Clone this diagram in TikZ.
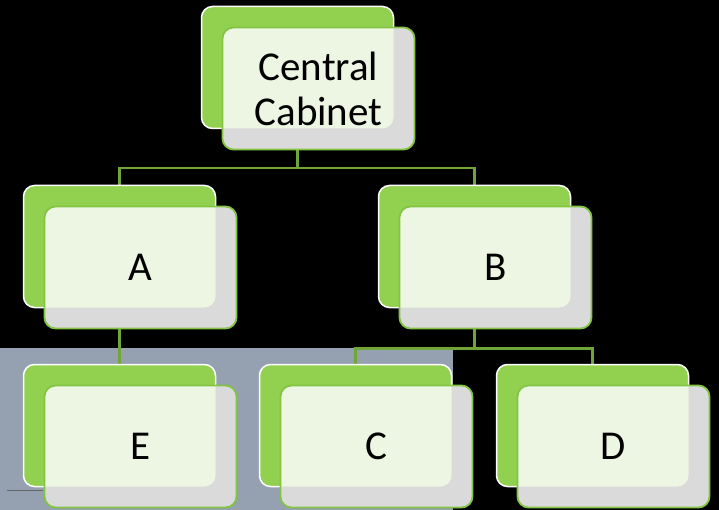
\documentclass[tikz,border=0pt]{standalone}
\usepackage{fontspec}
\setmainfont{Carlito}
\usepackage{tikz}
\usetikzlibrary{shadows, backgrounds}
\definecolor{leaf}{RGB}{146,208,80}
\definecolor{rim}{RGB}{132,196,68}
\definecolor{twig}{RGB}{112,166,56}
\definecolor{paleleaf}{RGB}{236,246,226}
\definecolor{haze}{RGB}{218,218,218}
\definecolor{slate}{RGB}{149,160,176}
\tikzstyle{box} = [rectangle, rounded corners=11pt, minimum width=192pt, minimum height=122pt, text centered, draw=rim, line width=1.8pt, fill=haze, font=\fontsize{41}{45}\selectfont,
    path picture={\fill[paleleaf, rounded corners=11pt] ([shift={(-30pt,30pt)}]path picture bounding box.north west) rectangle ([shift={(-21pt,21pt)}]path picture bounding box.south east);},
    general shadow={shadow xshift=-21pt, shadow yshift=21pt, fill=leaf, draw=white, line width=1.5pt}]
\tikzstyle{link} = [twig, line width=2.2pt]

\begin{document}
\begin{tikzpicture}[node distance=179pt]
    \useasboundingbox (0,0) rectangle (719pt,-510pt);
    \node (top) [box, align=center] at (318.5pt,-88.5pt) {Central\\Cabinet};
    \node (a) [box, below of=top, xshift=-178pt] {A};
    \node (b) [box, below of=top, xshift=177pt] {B};
    \node (e) [box, below of=a] {E};
    \node (c) [box, below of=b, xshift=-119pt] {C};
    \node (d) [box, below of=b, xshift=118pt] {D};
    \begin{scope}[on background layer]
        \fill[black] (0,0) rectangle (719pt,-510pt);
        \fill[slate] (0,-348pt) rectangle (453pt,-510pt);
        \draw[black!60, line width=1pt] (7pt,-490pt) -- (43pt,-490pt);
        \draw [link] ([xshift=-21pt]top.south) -- ++(0,-18pt) coordinate (t1);
        \draw [link] ([shift={(-21pt,21pt)}]a.north) |- (t1) -| ([shift={(-21pt,21pt)}]b.north);
        \draw [link] ([xshift=-21pt]a.south) -- ([shift={(-21pt,21pt)}]e.north);
        \draw [link] ([xshift=-21pt]b.south) -- ++(0,-19pt) coordinate (t2);
        \draw [link] ([shift={(-21pt,21pt)}]c.north) |- (t2) -| ([shift={(-21pt,21pt)}]d.north);
    \end{scope}
\end{tikzpicture}
\end{document}
